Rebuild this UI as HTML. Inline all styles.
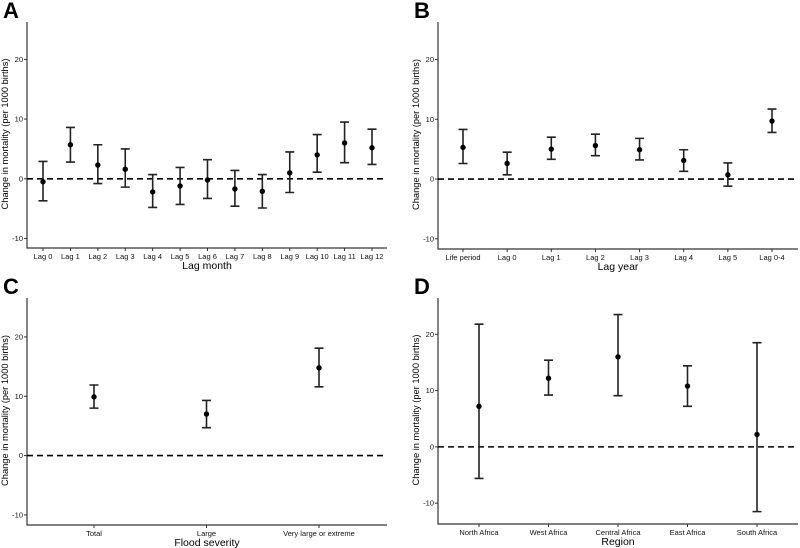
<!DOCTYPE html>
<html><head><meta charset="utf-8"><style>
html,body{margin:0;padding:0;background:#fff;}
svg{display:block;font-family:"Liberation Sans",Arial,sans-serif;}
</style></head><body>
<svg id="fig" width="800" height="548" viewBox="0 0 800 548"></svg>
<script>
// Panel A data
const catsA = ["Lag 0","Lag 1","Lag 2","Lag 3","Lag 4","Lag 5","Lag 6","Lag 7","Lag 8","Lag 9","Lag 10","Lag 11","Lag 12"];
const estA = [-0.5,5.7,2.3,1.6,-2.2,-1.2,-0.2,-1.7,-2.1,1.0,4.0,6.0,5.2];
const loA = [-3.7,2.8,-0.8,-1.4,-4.8,-4.3,-3.3,-4.6,-4.9,-2.3,1.1,2.7,2.4];
const hiA = [2.9,8.6,5.7,5.0,0.7,1.9,3.2,1.4,0.7,4.5,7.4,9.5,8.3];
// Panel B data
const catsB = ["Life period","Lag 0","Lag 1","Lag 2","Lag 3","Lag 4","Lag 5","Lag 0-4"];
const estB = [5.3,2.6,5.0,5.6,4.9,3.1,0.7,9.7];
const loB = [2.6,0.7,3.3,3.9,3.2,1.3,-1.2,7.8];
const hiB = [8.3,4.5,7.0,7.5,6.8,4.9,2.7,11.7];
// Panel C data
const catsC = ["Total","Large","Very large or extreme"];
const estC = [9.9,7.0,14.8];
const loC = [8.0,4.7,11.6];
const hiC = [11.9,9.3,18.1];
// Panel D data
const catsD = ["North Africa","West Africa","Central Africa","East Africa","South Africa"];
const estD = [7.2,12.2,16.0,10.8,2.2];
const loD = [-5.6,9.2,9.1,7.2,-11.5];
const hiD = [21.8,15.4,23.5,14.4,18.5];
const yTicks = [-10,0,10,20];

const NS="http://www.w3.org/2000/svg";
const svg=document.getElementById('fig');
function mk(tag,attrs,parent){const e=document.createElementNS(NS,tag);for(const k in attrs)e.setAttribute(k,attrs[k]);(parent||svg).appendChild(e);return e;}

function panel(id,letter,o){
  const g=mk('g',{});
  
  
  const y=v=>o.y0+(o.dTop-v)/(o.dTop-o.dBot)*(o.y1-o.y0);
  const n=o.cats.length;
  const step=(o.cLast-o.cFirst)/(n-1);
  const x=i=>o.cFirst+i*step;
  const L=mk('text',{x:o.ax-24,y:o.y0-2,'font-size':22,'font-weight':'bold',fill:'#000'},g);L.textContent=letter;
  
  
  const ax=mk('path',{d:`M${o.ax},${o.y0+2}V${o.y1}H${o.xr}`,stroke:'#333',fill:'none','stroke-width':1.2},g);
  
  
  yTicks.forEach(t=>{
    mk('line',{x1:o.ax-3,x2:o.ax,y1:y(t),y2:y(t),stroke:'#333'},g);
    const tx=mk('text',{x:o.ax-4,y:y(t)+2.5,'font-size':7.5,'text-anchor':'end',fill:'#111'},g);tx.textContent=t;
    
    
  });
  const zl=mk('line',{x1:o.ax,x2:o.xr,y1:y(0),y2:y(0),stroke:'#000','stroke-width':1.6,'stroke-dasharray':'6,4'},g);
  
  
  o.cats.forEach((c,i)=>{
    mk('line',{x1:x(i),x2:x(i),y1:o.y1,y2:o.y1+3,stroke:'#333'},g);
    const tx=mk('text',{x:x(i),y:o.y1+11,'font-size':7.5,'text-anchor':'middle',fill:'#111'},g);tx.textContent=c;
    
    
    const eb=mk('path',{d:`M${x(i)-4.5},${y(o.hi[i])}H${x(i)+4.5}M${x(i)},${y(o.hi[i])}V${y(o.lo[i])}M${x(i)-4.5},${y(o.lo[i])}H${x(i)+4.5}`,stroke:'#222','stroke-width':1.6,fill:'none'},g);
    
    
    const pt=mk('circle',{cx:x(i),cy:y(o.est[i]),r:2.7,fill:'#000'},g);
    
    
  });
  const xt=mk('text',{x:(o.ax+o.xr)/2,y:o.y1+21,'font-size':10.5,'text-anchor':'middle',fill:'#000'},g);xt.textContent=o.xlab;
  
  
  const cy=(o.y0+o.y1)/2;
  const yt=mk('text',{x:o.ax-19,y:cy,'font-size':9.3,'text-anchor':'middle',fill:'#000',transform:`rotate(-90 ${o.ax-19} ${cy})`},g);yt.textContent='Change in mortality (per 1000 births)';
  
  
}
panel('a','A',{cats:catsA,est:estA,lo:loA,hi:hiA,ax:27,xr:387,y0:20,y1:248,dTop:26.6,dBot:-11.6,cFirst:43,cLast:372,xlab:'Lag month'});
panel('b','B',{cats:catsB,est:estB,lo:loB,hi:hiB,ax:438,xr:798,y0:20,y1:249,dTop:26.6,dBot:-11.7,cFirst:463,cLast:772,xlab:'Lag year'});
panel('c','C',{cats:catsC,est:estC,lo:loC,hi:hiC,ax:27,xr:387,y0:296,y1:525,dTop:26.9,dBot:-11.7,cFirst:94,cLast:319,xlab:'Flood severity'});
panel('d','D',{cats:catsD,est:estD,lo:loD,hi:hiD,ax:438,xr:798,y0:296,y1:524,dTop:26.8,dBot:-13.7,cFirst:479,cLast:757,xlab:'Region'});
</script>
</body></html>
